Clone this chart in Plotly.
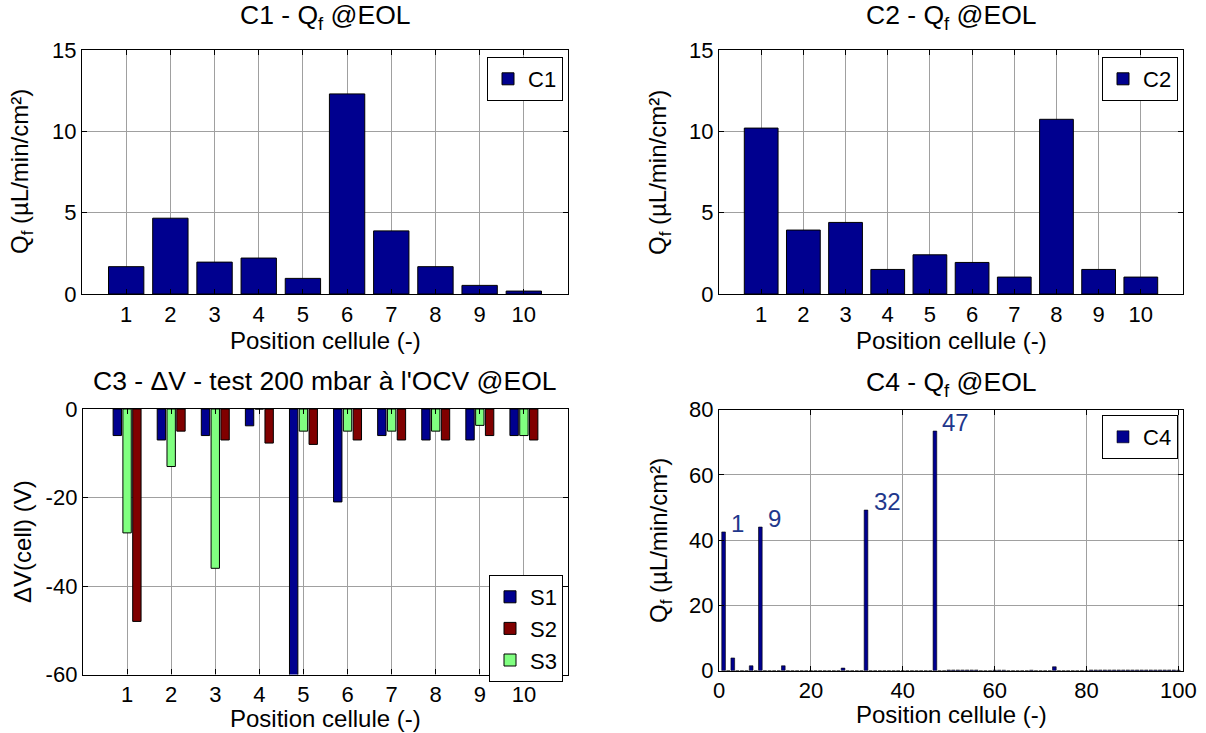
import plotly.graph_objects as go

# ---------------- data ----------------
positions10 = list(range(1, 11))
c1_values = [1.68, 4.66, 1.96, 2.21, 0.96, 12.3, 3.88, 1.68, 0.53, 0.18]
c2_values = [10.2, 3.93, 4.4, 1.51, 2.41, 1.94, 1.04, 10.74, 1.51, 1.04]
s1_values = [-6, -7, -6, -3.8, -62, -21, -6, -7, -7, -6]
s2_values = [-48, -5, -7, -7.7, -8, -7, -7, -7, -6, -7]
s3_values = [-28, -13, -36, 0, -5, -5, -5, -5, -3.7, -6]
c3_yticks = [-60, -40, -20, 0]
c3_yticklabels = ["-60", "-40", "-20", "0"]
positions100 = list(range(1, 101))
c4_values = [
    42.5, 0, 3.9, 0, 0, 0, 1.5, 0, 44.0, 0,
    0, 0, 0, 1.5, 0, 0, 0, 0, 0, 0,
    0, 0, 0, 0, 0, 0, 0.8, 0, 0, 0,
    0, 49.2, 0, 0, 0, 0, 0, 0, 0, 0,
    0, 0, 0, 0, 0, 0, 73.4, 0, 0, 0.2,
    0.2, 0.2, 0.2, 0.2, 0.2, 0.2, 0, 0, 0, 0.15,
    0.15, 0.15, 0, 0, 0, 0, 0, 0.15, 0, 0,
    0, 0, 1.2, 0, 0, 0, 0, 0, 0, 0,
    0.2, 0.2, 0.2, 0.2, 0.2, 0.2, 0.2, 0.2, 0.2, 0.2,
    0.2, 0.2, 0.2, 0.2, 0.2, 0.2, 0.2, 0.2, 0.2, 0.15,
]
c4_labels = [1, 9, 32, 47]
c4_ticks = [0, 20, 40, 60, 80, 100]

# ---------------- style ----------------
W, H = 1206, 733
NAVY = "rgb(0,0,143)"
DRED = "rgb(128,0,0)"
LGREEN = "rgb(128,255,128)"
LABEL_BLUE = "rgb(31,56,140)"
FONT = "Liberation Sans, Arial, sans-serif"
edge = dict(color="black", width=1)

def fx(px):
    return px / W

def fy(py):
    return 1 - py / H

def px_x(a, b):
    return [fx(a), fx(b)]

def px_y(top, bottom):
    return [fy(bottom), fy(top)]

fig = go.Figure()

fig.add_trace(go.Bar(x=positions10, y=c1_values, name="C1", width=0.8, showlegend=True,
                     marker=dict(color=NAVY, line=edge), xaxis="x", yaxis="y",
                     legend="legend"))
fig.add_trace(go.Bar(x=positions10, y=c2_values, name="C2", width=0.8, showlegend=True,
                     marker=dict(color=NAVY, line=edge), xaxis="x2", yaxis="y2",
                     legend="legend2"))
fig.add_trace(go.Bar(x=positions10, y=s1_values, name="S1", width=0.19, offset=-0.317,
                     marker=dict(color=NAVY, line=edge), xaxis="x3", yaxis="y3",
                     legend="legend3", legendrank=1, showlegend=True))
fig.add_trace(go.Bar(x=positions10, y=s3_values, name="S3", width=0.19, offset=-0.095,
                     marker=dict(color=LGREEN, line=edge), xaxis="x3", yaxis="y3",
                     legend="legend3", legendrank=3, showlegend=True))
fig.add_trace(go.Bar(x=positions10, y=s2_values, name="S2", width=0.19, offset=0.127,
                     marker=dict(color=DRED, line=edge), xaxis="x3", yaxis="y3",
                     legend="legend3", legendrank=2, showlegend=True))
fig.add_trace(go.Bar(x=positions100, y=c4_values, name="C4", width=0.8, showlegend=True,
                     marker=dict(color=NAVY, line=dict(color="black", width=0.6)),
                     xaxis="x4", yaxis="y4", legend="legend4"))

axis_common = dict(showline=True, linecolor="black", linewidth=1.4, mirror="ticks",
                   ticks="inside", ticklen=5, tickcolor="black", showgrid=True,
                   gridcolor="rgb(160,160,160)", gridwidth=1, zeroline=False,
                   automargin=False,
                   tickfont=dict(size=22, color="black", family=FONT))

layout = dict(
    width=W, height=H, margin=dict(l=0, r=0, t=0, b=0, autoexpand=False),
    paper_bgcolor="white", plot_bgcolor="white", showlegend=True,
    font=dict(family=FONT, color="black", size=22),
    barmode="group",
    xaxis=dict(domain=px_x(82, 568), range=[0, 11], tickvals=positions10, anchor="y", **axis_common),
    yaxis=dict(domain=px_y(50, 294), range=[0, 15], dtick=5, anchor="x", **axis_common),
    xaxis2=dict(domain=px_x(719, 1183), range=[0, 11], tickvals=positions10, anchor="y2", **axis_common),
    yaxis2=dict(domain=px_y(50, 294), range=[0, 15], dtick=5, anchor="x2", **axis_common),
    xaxis3=dict(domain=px_x(83, 568), range=[0, 11], tickvals=positions10, anchor="y3", **axis_common),
    yaxis3=dict(domain=px_y(409, 674.5), range=[-60, 0], tickvals=c3_yticks,
                ticktext=c3_yticklabels, anchor="x3", **axis_common),
    xaxis4=dict(domain=px_x(719, 1183), range=[0, 101], tickvals=c4_ticks, anchor="y4", **axis_common),
    yaxis4=dict(domain=px_y(409.5, 670.7), range=[0, 80], dtick=20, anchor="x4", **axis_common),
)

leg_common = dict(bgcolor="white", bordercolor="black", borderwidth=1,
                  font=dict(size=22, color="black", family=FONT),
                  xanchor="right", yanchor="top", tracegroupgap=0)
layout["legend"] = dict(x=fx(563), y=fy(57), **leg_common)
layout["legend2"] = dict(x=fx(1178), y=fy(57), **leg_common)
layout["legend3"] = dict(x=fx(563), y=fy(575), traceorder="normal", **leg_common)
layout["legend4"] = dict(x=fx(1178), y=fy(415), **leg_common)

fig.update_layout(**layout)

def ann(text, x, y, size=22, angle=0, xanchor="center", yanchor="middle", color="black"):
    fig.add_annotation(text=text, x=fx(x), y=fy(y), xref="paper", yref="paper",
                       showarrow=False, textangle=angle, xanchor=xanchor,
                       yanchor=yanchor, font=dict(size=size, color=color, family=FONT))

# titles
ann("C1 - Q<sub>f</sub> @EOL", 325, 17, size=26.5)
ann("C2 - Q<sub>f</sub> @EOL", 951, 17, size=26.5)
ann("C3 - ΔV - test 200 mbar à l'OCV @EOL", 325, 381, size=26.5)
ann("C4 - Q<sub>f</sub> @EOL", 951, 384, size=26.5)

# x titles
ann("Position cellule (-)", 325, 340, size=24)
ann("Position cellule (-)", 951, 340, size=24)
ann("Position cellule (-)", 325, 718, size=24)
ann("Position cellule (-)", 951, 714, size=24)

# y titles
ann("Q<sub>f</sub> (µL/min/cm²)", 22, 172, size=24, angle=-90)
ann("Q<sub>f</sub> (µL/min/cm²)", 660, 172, size=24, angle=-90)
ann("ΔV(cell) (V)", 22, 542, size=24, angle=-90)
ann("Q<sub>f</sub> (µL/min/cm²)", 660, 540, size=24, angle=-90)

# C4 bar labels (data coordinates)
for p in c4_labels:
    fig.add_annotation(text=str(p), x=p + 1.2, y=c4_values[p - 1] + 2.6,
                       xref="x4", yref="y4", showarrow=False, xanchor="left",
                       yanchor="middle", font=dict(size=24, color=LABEL_BLUE, family=FONT))

fig.write_html("out.html", config={"displayModeBar": False},
               post_script="document.body.style.margin='0px';")
